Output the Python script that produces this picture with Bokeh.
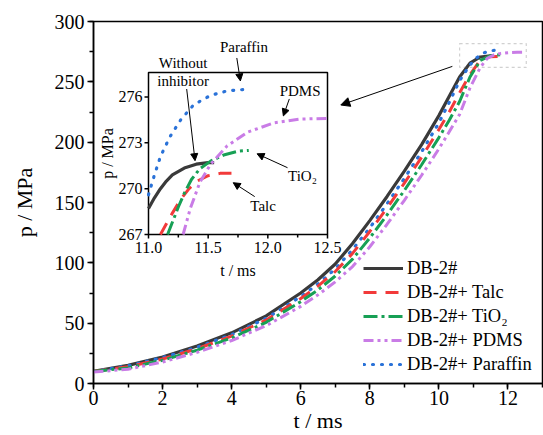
import math
from bokeh.plotting import figure
from bokeh.models import (Label, Arrow, NormalHead, BoxAnnotation,
                          SingleIntervalTicker, Range1d)
from bokeh.embed import file_html
from bokeh.resources import INLINE

FONT = "Liberation Serif"

# ---------------- main chart data (t / ms, p / MPa) ----------------
t_base = [0, 1, 2, 3, 4, 5, 6, 6.5, 7, 7.5, 8, 8.5, 9, 9.5, 10, 10.3, 10.6, 10.9, 11.2, 11.55]
p_base = [10, 15, 22, 31, 42, 56, 75, 86, 99, 116, 135, 155, 176, 198, 222, 238, 254, 265.5, 270.6, 271.7]

t_talc = [0, 1, 2, 3, 4, 5, 6, 6.5, 7, 7.5, 8, 8.5, 9, 9.5, 10, 10.3, 10.6, 10.9, 11.2, 11.45, 11.7]
p_talc = [10, 13.8, 20.3, 28.8, 39.3, 52.6, 70.4, 80.7, 92.8, 107.8, 126, 145.5, 166, 187.5, 210.5, 225, 241, 256, 268, 270.7, 271]

t_tio2 = [0, 1, 2, 3, 4, 5, 6, 6.5, 7, 7.5, 8, 8.5, 9, 9.5, 10, 10.3, 10.6, 10.9, 11.2, 11.5, 11.84]
p_tio2 = [10, 12.9, 19.3, 27.6, 37.8, 50.7, 67.8, 77.6, 89.1, 103.1, 120.6, 139.8, 160, 181.3, 203.8, 218.2, 233.7, 254, 267.8, 271.7, 272.5]

t_pdms = [0, 1, 2, 3, 4, 5, 6, 6.5, 7, 7.5, 8, 8.5, 9, 9.5, 10, 10.3, 10.6, 10.9, 11.2, 11.4, 11.6, 11.8, 12.05, 12.27, 12.5]
p_pdms = [9.5, 11.8, 17.8, 25.8, 35.6, 47.9, 63.9, 73.5, 84.2, 96.9, 113.3, 132, 151.8, 172.6, 194.5, 208.6, 223, 245, 262, 269.5, 272.4, 273.6, 274.3, 274.55, 274.6]

t_paraffin = [0, 1, 2, 3, 4, 5, 6, 6.5, 7, 7.5, 8, 8.5, 9, 9.5, 10, 10.3, 10.6, 10.9, 11.1, 11.3, 11.5, 11.83]
p_paraffin = [10, 14.7, 21.5, 30, 40.5, 54, 72, 82.5, 95, 111, 129, 149, 170, 192, 216, 233, 251, 264, 270, 274, 275.8, 276.5]

# ---------------- inset data ----------------
ti_base = [11.0, 11.05, 11.1, 11.15, 11.2, 11.3, 11.4, 11.5, 11.55]
pi_base = [268.7, 269.4, 270.0, 270.5, 270.9, 271.35, 271.6, 271.7, 271.7]

ti_paraffin = [11.0, 11.05, 11.1, 11.18, 11.27, 11.38, 11.52, 11.66, 11.83]
pi_paraffin = [269.6, 270.9, 272.1, 273.4, 274.5, 275.5, 276.1, 276.4, 276.5]

ti_talc = [11.1, 11.15, 11.2, 11.27, 11.34, 11.41, 11.5, 11.6, 11.7]
pi_talc = [267.0, 267.7, 268.4, 269.3, 270.0, 270.5, 270.85, 271.0, 271.0]

ti_tio2 = [11.16, 11.2, 11.25, 11.3, 11.36, 11.43, 11.52, 11.63, 11.75, 11.84]
pi_tio2 = [267.0, 267.8, 268.8, 269.7, 270.6, 271.3, 271.8, 272.2, 272.45, 272.5]

ti_pdms = [11.29, 11.35, 11.43, 11.52, 11.66, 11.83, 12.05, 12.27, 12.5]
pi_pdms = [267.0, 268.7, 270.4, 271.6, 272.8, 273.7, 274.3, 274.55, 274.6]

inset_xticks = [11.0, 11.5, 12.0, 12.5]
inset_xtick_labels = ["11.0", "11.5", "12.0", "12.5"]
inset_xminor = [11.25, 11.75, 12.25]
inset_yticks = [267, 270, 273, 276]
inset_ytick_labels = ["267", "270", "273", "276"]

labels = ["DB-2#", "DB-2#+ Talc", "DB-2#+ TiO\u2082", "DB-2#+ PDMS", "DB-2#+ Paraffin"]

C_BLACK = "#3a3a3a"
C_RED = "#f23a3a"
C_GREEN = "#17a055"
C_PURPLE = "#c97ce6"
C_BLUE = "#2a72d8"

styles = [
    dict(line_color=C_BLACK, line_width=3.2),
    dict(line_color=C_RED, line_width=3, line_dash="13 9"),
    dict(line_color=C_GREEN, line_width=3, line_dash="14 4 3 4"),
    dict(line_color=C_PURPLE, line_width=3, line_dash="10 4 3 4 3 4"),
    dict(line_color=C_BLUE, line_width=3.2, line_dash="1 8", line_cap="round"),
]

# ---------------- layout geometry (pixels) ----------------
W, H = 543, 435
BL, BR, BT, BB = 93, 1, 21, 52
FX0, FX1 = BL, W - BR
FY0, FY1 = BT, H - BB
IX0, IX1, IY0, IY1 = 148, 327, 72, 234   # inset frame (left, right, top, bottom)
IXR = (11.0, 12.5)
IYR = (267.0, 277.6)

sx = (IX1 - IX0) / (IXR[1] - IXR[0])
sy = (IY1 - IY0) / (IYR[1] - IYR[0])
ix_start = IXR[0] - (IX0 - FX0) / sx
ix_end = IXR[1] + (FX1 - IX1) / sx
iy_start = IYR[0] - (FY1 - IY1) / sy
iy_end = IYR[1] + (IY0 - FY0) / sy

# ---------------- main figure ----------------
p = figure(width=W, height=H, x_range=Range1d(0, 13), y_range=Range1d(0, 300),
           output_backend="svg", toolbar_location=None,
           min_border_left=BL, min_border_right=BR, min_border_top=BT, min_border_bottom=BB,
           outline_line_color="black", outline_line_width=1.5,
           background_fill_color="white", border_fill_color="white")
p.grid.visible = False
p.extra_x_ranges = {"ix": Range1d(ix_start, ix_end)}
p.extra_y_ranges = {"iy": Range1d(iy_start, iy_end)}

series = [(t_base, p_base), (t_talc, p_talc), (t_tio2, p_tio2), (t_pdms, p_pdms), (t_paraffin, p_paraffin)]
order = [0, 4, 1, 2, 3]
for i in order:
    tx, py = series[i]
    p.line(tx, py, legend_label=labels[i], **styles[i])

p.xaxis.ticker = SingleIntervalTicker(interval=2, num_minor_ticks=2)
p.yaxis.ticker = SingleIntervalTicker(interval=50, num_minor_ticks=2)
for ax in [p.xaxis[0], p.yaxis[0]]:
    ax.axis_line_width = 1.5
    ax.axis_line_color = "black"
    ax.major_tick_line_width = 1.5
    ax.minor_tick_line_width = 1.5
    ax.major_tick_out = 6
    ax.major_tick_in = 0
    ax.minor_tick_out = 4
    ax.minor_tick_in = 0
    ax.major_label_text_font = FONT
    ax.major_label_text_font_size = "20px"
    ax.major_label_text_color = "black"
    ax.axis_label_text_font = FONT
    ax.axis_label_text_font_size = "22px"
    ax.axis_label_text_font_style = "normal"
    ax.axis_label_text_color = "black"
p.xaxis.axis_label = "t / ms"
p.yaxis.axis_label = "p / MPa"
p.xaxis.major_label_standoff = 1
p.xaxis.axis_label_standoff = 0
p.yaxis.major_label_standoff = 3
p.yaxis.axis_label_standoff = 15

lg = p.legend[0]
items = {it.label.value: it for it in lg.items}
lg.items = [items[l] for l in labels]
lg.location = (270, 8)
lg.border_line_color = None
lg.background_fill_alpha = 0
lg.glyph_width = 40
lg.glyph_height = 22
lg.label_height = 22
lg.spacing = 2
lg.padding = 0
lg.margin = 0
lg.label_standoff = 4
lg.label_text_font = FONT
lg.label_text_font_size = "18.5px"
lg.label_text_color = "black"

p.add_layout(BoxAnnotation(left=10.6, right=12.53, bottom=262, top=281.7,
                           fill_alpha=0, line_color="#666666", line_dash="3 3", line_width=1.2))
p.add_layout(Arrow(end=NormalHead(size=9, fill_color="black", line_color="black"),
                   x_start=10.39, y_start=262.8, x_end=7.16, y_end=230.8,
                   line_color="black", line_width=1))

# ---------------- inset (own scales via extra ranges) ----------------
R = dict(x_range_name="ix", y_range_name="iy")
p.quad(left=[IXR[0]], right=[IXR[1]], bottom=[IYR[0]], top=[IYR[1]],
       fill_color="white", line_color="black", line_width=1.5, **R)

iseries = [(ti_base, pi_base), (ti_talc, pi_talc), (ti_tio2, pi_tio2), (ti_pdms, pi_pdms), (ti_paraffin, pi_paraffin)]
for i in order:
    tx, py = iseries[i]
    p.line(tx, py, **styles[i], **R)

maj_x = 4 / sx
maj_y = 4 / sy
min_y = 3 / sy
p.segment(x0=inset_xticks, y0=[IYR[0]] * 4, x1=inset_xticks, y1=[IYR[0] - maj_y] * 4,
          line_color="black", line_width=1.5, **R)
p.segment(x0=inset_xminor, y0=[IYR[0]] * 3, x1=inset_xminor, y1=[IYR[0] - min_y] * 3,
          line_color="black", line_width=1.5, **R)
p.segment(x0=[IXR[0]] * 4, y0=inset_yticks, x1=[IXR[0] - maj_x] * 4, y1=inset_yticks,
          line_color="black", line_width=1.5, **R)

for xv, txt in zip(inset_xticks, inset_xtick_labels):
    p.add_layout(Label(x=xv, y=IYR[0], text=txt, y_offset=-7, text_align="center", text_baseline="top",
                       text_font=FONT, text_font_size="16px", text_color="black", **R))
for yv, txt in zip(inset_yticks, inset_ytick_labels):
    p.add_layout(Label(x=IXR[0], y=yv, text=txt, x_offset=-6, text_align="right", text_baseline="middle",
                       text_font=FONT, text_font_size="16px", text_color="black", **R))
p.add_layout(Label(x=(IXR[0] + IXR[1]) / 2, y=IYR[0], text="t / ms", y_offset=-27, text_align="center",
                   text_baseline="top", text_font=FONT, text_font_size="16px", text_color="black", **R))
p.add_layout(Label(x=IXR[0], y=(IYR[0] + IYR[1]) / 2, text="p / MPa", x_offset=-41, angle=math.pi / 2,
                   text_align="center", text_baseline="middle", text_font=FONT, text_font_size="16px",
                   text_color="black", **R))

def note(x, y, text):
    p.add_layout(Label(x=x, y=y, text=text, text_font=FONT, text_font_size="15px",
                       text_align="center", text_baseline="middle", text_color="black", **R))

def arrow(x0, y0, x1, y1):
    p.add_layout(Arrow(end=NormalHead(size=7, fill_color="black", line_color="black"),
                       x_start=x0, y_start=y0, x_end=x1, y_end=y1,
                       line_color="black", line_width=1, **R))

note(11.80, 279.26, "Paraffin")
arrow(11.74, 278.55, 11.77, 277.05)
note(11.29, 278.22, "Without")
note(11.29, 277.05, "inhibitor")
arrow(11.32, 276.52, 11.39, 271.83)
note(12.27, 276.39, "PDMS")
arrow(12.18, 275.87, 12.13, 274.76)
note(12.29, 270.85, "TiO\u2082")
arrow(12.165, 271.37, 11.91, 272.28)
note(11.96, 268.89, "Talc")
arrow(11.89, 269.48, 11.71, 270.39)

open("out.html", "w").write(file_html(p, INLINE))
